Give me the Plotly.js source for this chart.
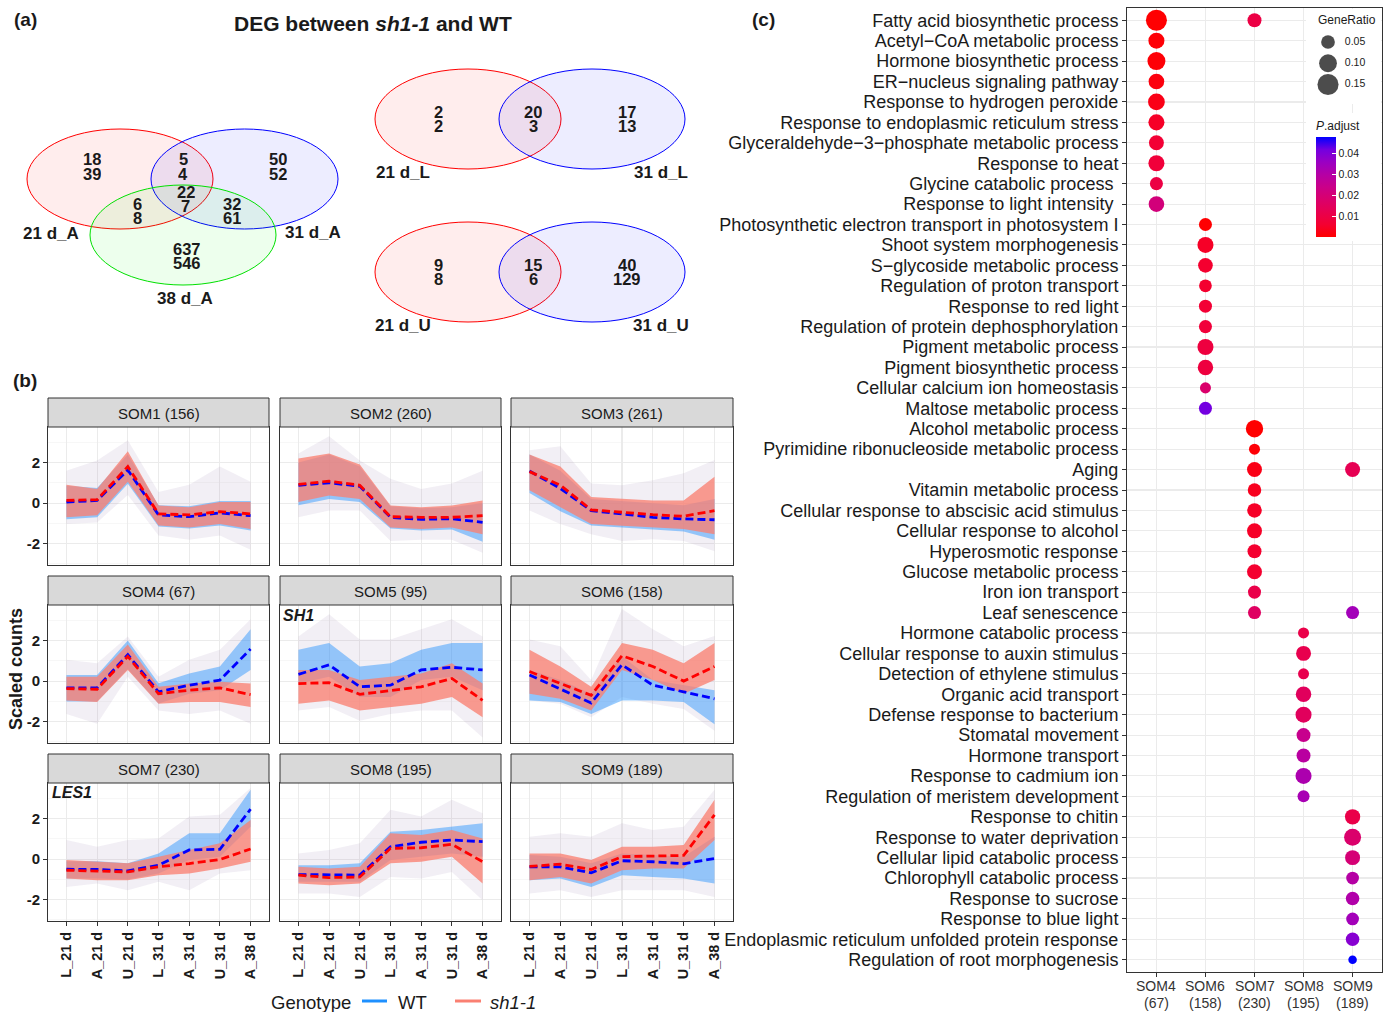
<!DOCTYPE html>
<html>
<head>
<meta charset="utf-8">
<script src="https://cdn.plot.ly/plotly-3.0.1.min.js"></script>
<style>html,body{margin:0;padding:0;background:#fff}#chart{width:1392px;height:1012px}</style>
</head>
<body>
<div id="chart"></div>
<script>
// ================= DATA =================
// ---- Panel (a): Venn counts (upper / lower number in each region)
const venn3Labels = ['21 d_A', '31 d_A', '38 d_A'];
// regions: A only, A∩B, B only, A∩C, A∩B∩C, B∩C, C only
const venn3Up   = [18, 5, 50, 6, 22, 32, 637];
const venn3Down = [39, 4, 52, 8, 7, 61, 546];
const vennLLabels = ['21 d_L', '31 d_L'];
const vennLUp   = [2, 20, 17];
const vennLDown = [2, 3, 13];
const vennULabels = ['21 d_U', '31 d_U'];
const vennUUp   = [9, 15, 40];
const vennUDown = [8, 6, 129];

// ---- Panel (b): SOM clusters
const timePoints = ['L_21 d', 'A_21 d', 'U_21 d', 'L_31 d', 'A_31 d', 'U_31 d', 'A_38 d'];
const somNames = ['SOM1', 'SOM2', 'SOM3', 'SOM4', 'SOM5', 'SOM6', 'SOM7', 'SOM8', 'SOM9'];
const somSizes = [156, 260, 261, 67, 95, 158, 230, 195, 189];
const yTickVals = [-2, 0, 2];
const yTickText = ['-2', '0', '2'];
// mean profiles (dashed lines)
const wtMean = [
  [0.05, 0.13, 1.63, -0.58, -0.67, -0.48, -0.62],
  [0.88, 1.00, 0.83, -0.70, -0.80, -0.77, -0.95],
  [1.58, 0.72, -0.37, -0.53, -0.70, -0.78, -0.82],
  [-0.33, -0.33, 1.30, -0.53, -0.20, 0.05, 1.58],
  [0.33, 0.80, -0.28, -0.20, 0.55, 0.68, 0.55],
  [0.30, -0.37, -1.08, 0.80, -0.20, -0.53, -0.87],
  [-0.50, -0.51, -0.58, -0.30, 0.45, 0.48, 2.46],
  [-0.76, -0.79, -0.79, 0.61, 0.83, 0.94, 0.86],
  [-0.38, -0.38, -0.68, -0.08, -0.13, -0.23, 0.03]
];
const shMean = [
  [0.13, 0.17, 1.80, -0.53, -0.58, -0.42, -0.53],
  [0.92, 1.08, 0.88, -0.67, -0.70, -0.70, -0.62],
  [1.55, 0.88, -0.33, -0.45, -0.57, -0.65, -0.37],
  [-0.37, -0.40, 1.22, -0.62, -0.45, -0.33, -0.67],
  [-0.12, -0.08, -0.65, -0.48, -0.28, 0.13, -0.95],
  [0.47, -0.12, -0.70, 1.25, 0.72, 0.00, 0.72],
  [-0.55, -0.60, -0.63, -0.38, -0.22, -0.02, 0.50],
  [-0.79, -0.91, -0.88, 0.53, 0.56, 0.73, -0.13],
  [-0.36, -0.25, -0.51, 0.12, 0.15, 0.18, 2.18]
];
// dense range of individual gene profiles, WT
const wtLo = [
  [-0.80, -0.70, 0.95, -1.15, -1.25, -1.10, -1.35],
  [-0.10, 0.20, 0.05, -1.25, -1.35, -1.30, -1.90],
  [0.50, -0.40, -1.10, -1.20, -1.30, -1.40, -1.80],
  [-1.00, -1.00, 0.60, -1.10, -0.62, -0.45, 0.55],
  [-0.12, 0.22, -0.78, -0.78, 0.05, 0.22, -0.45],
  [-0.95, -1.03, -1.62, -0.95, -0.95, -1.03, -2.12],
  [-0.95, -0.95, -1.00, -0.71, -0.05, 0.12, 1.60],
  [-1.12, -1.12, -1.12, -0.05, 0.12, 0.28, 0.12],
  [-1.04, -0.96, -1.37, -0.79, -0.88, -0.96, -1.20]
];
const wtHi = [
  [0.85, 0.75, 2.40, -0.10, -0.15, 0.10, 0.10],
  [2.00, 2.40, 1.80, -0.15, -0.25, -0.20, 0.00],
  [2.40, 1.60, 0.20, 0.10, 0.00, -0.10, 0.20],
  [0.30, 0.30, 2.00, -0.10, 0.38, 0.72, 2.55],
  [1.55, 1.88, 0.72, 0.88, 1.55, 1.88, 1.88],
  [0.55, 0.05, -0.62, 1.22, 0.05, -0.20, -0.45],
  [-0.10, -0.10, -0.20, 0.28, 1.27, 1.27, 3.42],
  [-0.30, -0.30, -0.21, 1.35, 1.44, 1.60, 1.77],
  [0.20, 0.12, -0.21, 0.28, 0.20, 0.12, 1.10]
];
// dense range of individual gene profiles, sh1-1
const shLo = [
  [-0.70, -0.60, 1.05, -1.10, -1.20, -1.03, -1.28],
  [0.05, 0.38, 0.20, -1.20, -1.28, -1.20, -1.53],
  [0.63, -0.20, -1.03, -1.12, -1.20, -1.28, -1.53],
  [-0.95, -1.03, 0.55, -1.12, -1.03, -1.03, -1.28],
  [-1.12, -0.95, -1.45, -1.28, -1.12, -0.78, -1.78],
  [-0.62, -0.87, -1.45, 0.55, 0.05, -0.62, 0.05],
  [-0.96, -1.04, -1.04, -0.79, -0.71, -0.46, -0.13],
  [-1.20, -1.29, -1.20, -0.21, -0.13, 0.12, -1.20],
  [-1.04, -0.88, -1.20, -0.55, -0.46, -0.46, 0.94]
];
const shHi = [
  [0.90, 0.70, 2.55, -0.12, -0.20, 0.05, 0.05],
  [2.20, 2.45, 1.90, -0.12, -0.20, -0.12, 0.13],
  [2.40, 1.80, 0.30, 0.22, 0.13, 0.13, 1.30],
  [0.22, 0.22, 1.80, -0.28, -0.12, -0.03, -0.12],
  [0.55, 0.55, 0.05, 0.22, 0.38, 0.88, -0.12],
  [1.55, 0.72, -0.28, 1.88, 1.55, 0.88, 1.88],
  [-0.05, -0.13, -0.21, 0.12, 0.45, 0.78, 1.93],
  [-0.38, -0.46, -0.38, 1.27, 1.19, 1.44, 1.02],
  [0.28, 0.28, -0.05, 0.61, 0.61, 0.69, 2.93]
];
// full spread of the faint individual profiles (both genotypes)
const allLo = [
  [-1.03, -0.95, 0.40, -1.60, -1.80, -1.60, -2.30],
  [-0.70, -0.37, -0.37, -1.87, -1.80, -1.80, -2.45],
  [-0.37, -1.03, -1.53, -1.87, -1.78, -1.87, -2.37],
  [-1.62, -2.10, 0.22, -1.45, -1.62, -1.45, -2.10],
  [-1.45, -1.28, -1.95, -1.62, -1.45, -1.45, -2.78],
  [-0.95, -1.12, -1.78, -0.78, -1.12, -1.37, -2.45],
  [-1.37, -1.20, -1.54, -1.12, -1.54, -0.71, -0.55],
  [-1.70, -1.70, -1.87, -0.88, -0.96, -0.63, -2.03],
  [-1.70, -1.54, -1.87, -1.54, -1.54, -1.54, -1.87]
];
const allHi = [
  [1.60, 2.10, 3.10, 0.55, 0.90, 1.80, 1.05],
  [2.45, 3.30, 2.10, 1.20, 0.70, 0.97, 1.60],
  [2.60, 2.80, 0.97, 0.88, 1.13, 1.47, 2.13],
  [1.05, 0.88, 2.20, 0.22, 1.05, 1.55, 3.05],
  [2.20, 3.30, 2.05, 2.05, 2.55, 3.05, 2.20],
  [2.05, 1.72, 0.05, 3.55, 2.55, 1.72, 2.22],
  [0.94, 0.61, 0.94, 1.02, 2.10, 2.18, 3.50],
  [0.28, 0.45, 0.78, 2.43, 2.10, 2.93, 2.26],
  [1.10, 1.27, 1.10, 1.77, 1.44, 1.60, 3.42]
];

// ---- Panel (c): GO enrichment dot plot
const clusters = ['SOM4', 'SOM6', 'SOM7', 'SOM8', 'SOM9'];
const clusterSizes = [67, 158, 230, 195, 189];
const terms = [
  'Fatty acid biosynthetic process',
  'Acetyl\u2212CoA metabolic process',
  'Hormone biosynthetic process',
  'ER\u2212nucleus signaling pathway',
  'Response to hydrogen peroxide',
  'Response to endoplasmic reticulum stress',
  'Glyceraldehyde\u22123\u2212phosphate metabolic process',
  'Response to heat',
  'Glycine catabolic process\u00A0',
  'Response to light intensity\u00A0',
  'Photosynthetic electron transport in photosystem I',
  'Shoot system morphogenesis',
  'S\u2212glycoside metabolic process',
  'Regulation of proton transport',
  'Response to red light',
  'Regulation of protein dephosphorylation',
  'Pigment metabolic process',
  'Pigment biosynthetic process',
  'Cellular calcium ion homeostasis',
  'Maltose metabolic process',
  'Alcohol metabolic process',
  'Pyrimidine ribonucleoside metabolic process',
  'Aging',
  'Vitamin metabolic process',
  'Cellular response to abscisic acid stimulus',
  'Cellular response to alcohol',
  'Hyperosmotic response',
  'Glucose metabolic process',
  'Iron ion transport',
  'Leaf senescence',
  'Hormone catabolic process',
  'Cellular response to auxin stimulus',
  'Detection of ethylene stimulus',
  'Organic acid transport',
  'Defense response to bacterium',
  'Stomatal movement',
  'Hormone transport',
  'Response to cadmium ion',
  'Regulation of meristem development',
  'Response to chitin',
  'Response to water deprivation',
  'Cellular lipid catabolic process',
  'Chlorophyll catabolic process',
  'Response to sucrose',
  'Response to blue light',
  'Endoplasmic reticulum unfolded protein response',
  'Regulation of root morphogenesis'
];
// one entry per dot: term index, cluster, GeneRatio, adjusted p
const dotTerm = [0, 0, 1, 2, 3, 4, 5, 6, 7, 8, 9,
  10, 11, 12, 13, 14, 15, 16, 17, 18, 19,
  20, 21, 22, 22, 23, 24, 25, 26, 27, 28, 29, 29,
  30, 31, 32, 33, 34, 35, 36, 37, 38,
  39, 40, 41, 42, 43, 44, 45, 46];
const dotCluster = ['SOM4', 'SOM7', 'SOM4', 'SOM4', 'SOM4', 'SOM4', 'SOM4', 'SOM4', 'SOM4', 'SOM4', 'SOM4',
  'SOM6', 'SOM6', 'SOM6', 'SOM6', 'SOM6', 'SOM6', 'SOM6', 'SOM6', 'SOM6', 'SOM6',
  'SOM7', 'SOM7', 'SOM7', 'SOM9', 'SOM7', 'SOM7', 'SOM7', 'SOM7', 'SOM7', 'SOM7', 'SOM7', 'SOM9',
  'SOM8', 'SOM8', 'SOM8', 'SOM8', 'SOM8', 'SOM8', 'SOM8', 'SOM8', 'SOM8',
  'SOM9', 'SOM9', 'SOM9', 'SOM9', 'SOM9', 'SOM9', 'SOM9', 'SOM9'];
const geneRatio = [0.149, 0.053, 0.077, 0.103, 0.072, 0.086, 0.077, 0.064, 0.077, 0.043, 0.072,
  0.043, 0.077, 0.061, 0.040, 0.043, 0.043, 0.077, 0.070, 0.024, 0.043,
  0.094, 0.024, 0.064, 0.064, 0.048, 0.059, 0.064, 0.053, 0.064, 0.043, 0.043, 0.043,
  0.024, 0.064, 0.024, 0.070, 0.077, 0.053, 0.053, 0.077, 0.033,
  0.068, 0.089, 0.064, 0.040, 0.048, 0.040, 0.048, 0.005];
const pAdjust = [0.0005, 0.010, 0.001, 0.001, 0.002, 0.003, 0.005, 0.007, 0.008, 0.010, 0.021,
  0.0005, 0.005, 0.006, 0.006, 0.007, 0.008, 0.009, 0.009, 0.018, 0.042,
  0.0003, 0.001, 0.003, 0.013, 0.004, 0.005, 0.005, 0.006, 0.006, 0.011, 0.016, 0.034,
  0.011, 0.012, 0.012, 0.015, 0.015, 0.025, 0.029, 0.032, 0.033,
  0.011, 0.018, 0.020, 0.030, 0.031, 0.034, 0.039, 0.048];
const legendRatios = [0.05, 0.10, 0.15];
const padjTicks = [0.01, 0.02, 0.03, 0.04];

// ================= LAYOUT / DRAWING =================
const W = 1392, H = 1012;
const px = v => v / W;
const py = v => 1 - v / H;
const SANS = '"Liberation Sans", Arial, Helvetica, sans-serif';
const TXT = '#1a1a1a';
const sizeFn = r => Math.sqrt(60 + 2560 * r);   // GeneRatio -> marker diameter

const traces = [];
const layout = {
  width: W, height: H,
  margin: {l: 0, r: 0, t: 0, b: 0, pad: 0},
  paper_bgcolor: '#ffffff', plot_bgcolor: '#ffffff',
  showlegend: false,
  font: {family: SANS, color: TXT},
  shapes: [], annotations: []
};
const ann = (x, y, text, size, extra) => layout.annotations.push(Object.assign({
  xref: 'paper', yref: 'paper', x: px(x), y: py(y), text: text, showarrow: false,
  xanchor: 'center', yanchor: 'middle', font: {family: SANS, size: size, color: TXT}
}, extra || {}));
const bold = s => ({family: SANS, size: s, color: TXT, weight: 'bold'});

// ---------- panel labels & titles ----------
ann(25, 19, '(a)', 19, {font: bold(19)});
ann(25, 381, '(b)', 19, {font: bold(19)});
ann(763, 19, '(c)', 19, {font: bold(19)});
ann(373, 24, 'DEG between <i>sh1-1</i> and WT', 21, {font: bold(21)});

// ---------- panel (a): Venn diagrams ----------
const vennFill = {red: 'rgba(255,0,0,0.07)', blue: 'rgba(0,0,255,0.07)', green: 'rgba(0,255,0,0.07)'};
const vennLine = {red: '#FF0000', blue: '#0000FF', green: '#00E000'};
function ellipse(x0, x1, y0, y1, col) {
  layout.shapes.push({type: 'circle', xref: 'paper', yref: 'paper',
    x0: px(x0), x1: px(x1), y0: py(y1), y1: py(y0),
    fillcolor: vennFill[col], line: {color: vennLine[col], width: 1}, layer: 'below'});
}
function countPair(x, y, up, down) {
  ann(x, y - 7, String(up), 16.5, {font: bold(16.5), height: 13});
  ann(x, y + 7.5, String(down), 16.5, {font: bold(16.5), height: 13});
}
// three-set diagram
ellipse(27, 213, 129, 229, 'red');
ellipse(151, 338, 129, 229, 'blue');
ellipse(90, 276, 185, 285, 'green');
const v3pos = [[92, 166], [183, 166], [278, 166], [137, 210], [186, 198], [232, 210], [187, 255]];
venn3Up.forEach((u, k) => countPair(v3pos[k][0], v3pos[k][1], u, venn3Down[k]));
ann(51, 233, venn3Labels[0], 17, {font: bold(17)});
ann(313, 232, venn3Labels[1], 17, {font: bold(17)});
ann(185, 299, venn3Labels[2], 17, {font: bold(17)});
// two-set diagrams
function venn2(top, labels, up, down) {
  ellipse(375, 561, top, top + 100, 'red');
  ellipse(499, 685, top, top + 100, 'blue');
  const xs = [438, 533, 627];
  up.forEach((u, k) => countPair(xs[k], top + 49, u, down[k]));
  ann(403, top + 103, labels[0], 17, {font: bold(17)});
  ann(661, top + 103, labels[1], 17, {font: bold(17)});
}
venn2(69, vennLLabels, vennLUp, vennLDown);
venn2(222, vennULabels, vennUUp, vennUDown);

// ---------- panel (b): SOM facets ----------
const colL = [48, 280, 511], colR = [269, 501, 733];
const stripTop = [398, 576, 754], plotTop = [427, 605, 783], plotBot = [565, 743, 921];
const WT_COL = '30,144,255', SH_COL = '250,128,114';
for (let i = 0; i < 9; i++) {
  const r = Math.floor(i / 3), c = i % 3;
  const id = i === 0 ? '' : String(i + 1);
  const xr = 'x' + id, yr = 'y' + id;
  layout['xaxis' + id] = {
    domain: [px(colL[c]), px(colR[c])], anchor: yr, type: 'category',
    categoryorder: 'array', categoryarray: timePoints, range: [-0.6, 6.6],
    showgrid: true, gridcolor: '#EBEBEB', gridwidth: 1.1, zeroline: false,
    showline: true, mirror: true, linecolor: '#333333', linewidth: 1,
    ticks: r === 2 ? 'outside' : '', ticklen: 4, tickcolor: '#333333',
    showticklabels: r === 2, tickangle: -90,
    tickfont: {family: SANS, size: 14.5, color: TXT, weight: 'bold'}, fixedrange: true
  };
  layout['yaxis' + id] = {
    domain: [py(plotBot[r]), py(plotTop[r])], anchor: xr, range: [-3.05, 3.75],
    tickmode: 'array', tickvals: yTickVals, ticktext: yTickText,
    minor: {tickmode: 'array', tickvals: [-3, -1, 1, 3], showgrid: true, gridcolor: '#F2F2F2', gridwidth: 0.6, ticks: ''},
    showgrid: true, gridcolor: '#EBEBEB', gridwidth: 1.1, zeroline: false,
    showline: true, mirror: true, linecolor: '#333333', linewidth: 1,
    ticks: c === 0 ? 'outside' : '', ticklen: 4, tickcolor: '#333333',
    showticklabels: c === 0, tickfont: {family: SANS, size: 15, color: TXT, weight: 'bold'}, fixedrange: true
  };
  const band = (lo, hi, fill) => {
    traces.push({x: timePoints, y: lo, xaxis: xr, yaxis: yr, mode: 'lines',
      line: {width: 0, color: 'rgba(0,0,0,0)'}, hoverinfo: 'skip'});
    traces.push({x: timePoints, y: hi, xaxis: xr, yaxis: yr, mode: 'lines',
      line: {width: 0, color: 'rgba(0,0,0,0)'}, fill: 'tonexty', fillcolor: fill, hoverinfo: 'skip'});
  };
  band(allLo[i], allHi[i], 'rgba(' + WT_COL + ',0.06)');
  band(allLo[i], allHi[i], 'rgba(' + SH_COL + ',0.07)');
  band(wtLo[i], wtHi[i], 'rgba(' + WT_COL + ',0.45)');
  band(shLo[i], shHi[i], 'rgba(' + SH_COL + ',0.78)');
  traces.push({x: timePoints, y: wtMean[i], xaxis: xr, yaxis: yr, mode: 'lines',
    line: {color: '#0000FF', width: 2.8, dash: '8px,4px'}});
  traces.push({x: timePoints, y: shMean[i], xaxis: xr, yaxis: yr, mode: 'lines',
    line: {color: '#FF0000', width: 2.8, dash: '8px,4px'}});
  // strip
  layout.shapes.push({type: 'rect', xref: 'paper', yref: 'paper',
    x0: px(colL[c]), x1: px(colR[c]), y0: py(plotTop[r]), y1: py(stripTop[r]),
    fillcolor: '#D9D9D9', line: {color: '#333333', width: 1}, layer: 'above'});
  ann((colL[c] + colR[c]) / 2, (stripTop[r] + plotTop[r]) / 2 + 1, somNames[i] + ' (' + somSizes[i] + ')', 15);
}
ann(281, 615, '<i>SH1</i>', 16, {xanchor: 'left', font: bold(16)});
ann(50, 792, '<i>LES1</i>', 16, {xanchor: 'left', font: bold(16)});
ann(16, 669, 'Scaled counts', 18, {textangle: -90, font: bold(18)});
// genotype legend
ann(311, 1002, 'Genotype', 18.5);
layout.shapes.push({type: 'line', xref: 'paper', yref: 'paper', x0: px(362), x1: px(387), y0: py(1001), y1: py(1001), line: {color: 'rgb(' + WT_COL + ')', width: 3}});
ann(413, 1002, 'WT', 18.5);
layout.shapes.push({type: 'line', xref: 'paper', yref: 'paper', x0: px(455), x1: px(481), y0: py(1001), y1: py(1001), line: {color: 'rgb(' + SH_COL + ')', width: 3}});
ann(513, 1002, '<i>sh1-1</i>', 18.5);

// ---------- panel (c): dot plot ----------
const cL = 1127, cR = 1382, cT = 8, cB = 972;
layout.xaxis10 = {
  domain: [px(cL), px(cR)], anchor: 'y10', type: 'category', categoryorder: 'array',
  categoryarray: clusters, range: [-0.6, clusters.length - 0.4],
  tickmode: 'array', tickvals: clusters, showticklabels: false,
  showgrid: true, gridcolor: '#EBEBEB', gridwidth: 1.1, zeroline: false,
  showline: true, mirror: true, linecolor: '#333333', linewidth: 1,
  ticks: 'outside', ticklen: 4, tickcolor: '#333333', fixedrange: true
};
// two-line cluster labels under the axis
clusters.forEach((s, k) => {
  layout.annotations.push({xref: 'x10', yref: 'paper', x: s, y: py(986), text: s, showarrow: false,
    xanchor: 'center', yanchor: 'middle', font: {family: SANS, size: 14, color: '#333333'}});
  layout.annotations.push({xref: 'x10', yref: 'paper', x: s, y: py(1003), text: '(' + clusterSizes[k] + ')', showarrow: false,
    xanchor: 'center', yanchor: 'middle', font: {family: SANS, size: 14, color: '#333333'}});
});
layout.yaxis10 = {
  domain: [py(cB), py(cT)], anchor: 'x10', type: 'category', categoryorder: 'array',
  categoryarray: terms, range: [terms.length - 0.4, -0.6],
  tickmode: 'array', tickvals: terms, ticktext: terms,
  showgrid: true, gridcolor: '#EBEBEB', gridwidth: 1.1, zeroline: false,
  showline: true, mirror: true, linecolor: '#333333', linewidth: 1,
  ticks: 'outside', ticklen: 4, tickcolor: '#333333',
  tickfont: {family: SANS, size: 18, color: TXT}, fixedrange: true
};
// white legend backgrounds (between gridlines and dots)
const dx = v => -0.6 + (v - cL) / (cR - cL) * (clusters.length + 0.2);
const dy = v => -0.6 + (v - cT) / (cB - cT) * (terms.length + 0.2);
layout.shapes.push({type: 'rect', xref: 'x10', yref: 'y10', x0: dx(1306), x1: dx(1381), y0: dy(9), y1: dy(104), fillcolor: '#ffffff', line: {width: 0}, layer: 'between'});
layout.shapes.push({type: 'rect', xref: 'x10', yref: 'y10', x0: dx(1306), x1: dx(1381), y0: dy(113), y1: dy(241), fillcolor: '#ffffff', line: {width: 0}, layer: 'between'});

const colorscale = [[0, '#FF0000'], [0.125, '#F40031'], [0.25, '#E8004F'], [0.375, '#DA006C'],
  [0.5, '#CA0089'], [0.625, '#B500A5'], [0.75, '#9A00C3'], [0.875, '#7300E0'], [1, '#0000FF']];
traces.push({
  x: dotCluster, y: dotTerm.map(k => terms[k]), xaxis: 'x10', yaxis: 'y10', mode: 'markers',
  marker: {
    size: geneRatio.map(sizeFn), color: pAdjust, colorscale: colorscale, showscale: true,
    line: {width: 0}, opacity: 1,
    colorbar: {
      thickness: 20, thicknessmode: 'pixels', len: 119, lenmode: 'pixels',
      x: px(1316), xanchor: 'left', y: py(118), yanchor: 'top', xpad: 0, ypad: 0,
      outlinewidth: 0, bgcolor: 'rgba(0,0,0,0)',
      tickmode: 'array', tickvals: padjTicks, ticktext: padjTicks.map(v => v.toFixed(2)),
      ticks: 'inside', ticklen: 4, tickwidth: 1, tickcolor: '#ffffff',
      tickfont: {family: SANS, size: 10.5, color: TXT},
      title: {text: '<i>P</i>.adjust', side: 'top', font: {family: SANS, size: 12, color: TXT}}
    }
  },
  hovertemplate: '%{y}<br>%{x}<extra></extra>'
});
// GeneRatio size legend
layout.xaxis11 = {domain: [px(1316), px(1380)], anchor: 'y11', range: [-1, 4.33], visible: false, fixedrange: true};
layout.yaxis11 = {domain: [py(96), py(30)], anchor: 'x11', range: [0.177, 0.0218], visible: false, fixedrange: true};
traces.push({x: legendRatios.map(() => 0), y: legendRatios, xaxis: 'x11', yaxis: 'y11', mode: 'markers',
  marker: {size: legendRatios.map(sizeFn), color: '#000000', line: {width: 0}}, hoverinfo: 'skip'});
traces.push({x: legendRatios.map(() => 1.4), y: legendRatios, xaxis: 'x11', yaxis: 'y11', mode: 'text',
  text: legendRatios.map(v => v.toFixed(2)), textposition: 'middle right',
  textfont: {family: SANS, size: 10.5, color: TXT}, hoverinfo: 'skip'});
ann(1316, 20, 'GeneRatio', 12, {xanchor: 'left'});

Plotly.newPlot('chart', traces, layout, {displayModeBar: false, staticPlot: true});
</script>
</body>
</html>
